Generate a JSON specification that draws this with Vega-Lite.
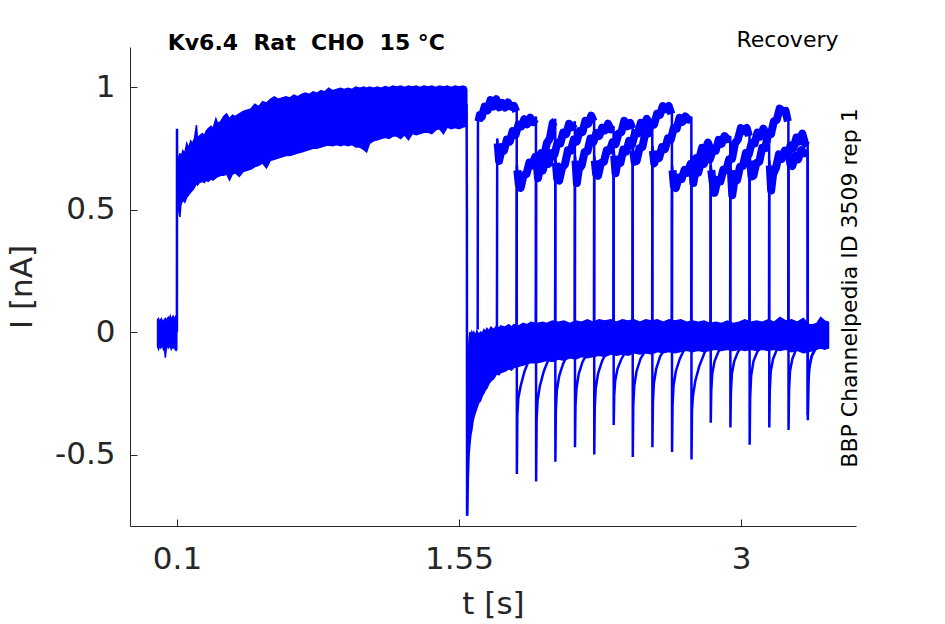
{
"$schema": "https://vega.github.io/schema/vega-lite/v6.json",
"width": 726, "height": 479,
"autosize": {"type": "none"},
"padding": {"left": 130, "top": 47, "right": 89, "bottom": 98},
"background": "white",
"config": {"view": {"stroke": null}, "font": "DejaVu Sans"},
"title": {"text": "Kv6.4\u00a0\u00a0Rat\u00a0\u00a0CHO\u00a0\u00a015 °C", "anchor": "start", "frame": "group", "fontSize": 22, "fontWeight": "bold", "font": "DejaVu Sans", "color": "black", "dx": 37.7, "dy": 43, "offset": 0, "baseline": "alphabetic"},
"datasets": {
"band": [
{"g":"hold","t":0.000,"lo":-0.06,"hi":0.05},{"g":"hold","t":0.005,"lo":-0.07,"hi":0.055},{"g":"hold","t":0.010,"lo":-0.05,"hi":0.04},{"g":"hold","t":0.015,"lo":-0.065,"hi":0.05},{"g":"hold","t":0.020,"lo":-0.06,"hi":0.055},{"g":"hold","t":0.025,"lo":-0.055,"hi":0.04},{"g":"hold","t":0.030,"lo":-0.07,"hi":0.045},{"g":"hold","t":0.035,"lo":-0.06,"hi":0.05},{"g":"hold","t":0.040,"lo":-0.105,"hi":0.055},{"g":"hold","t":0.045,"lo":-0.065,"hi":0.045},{"g":"hold","t":0.050,"lo":-0.05,"hi":0.055},{"g":"hold","t":0.055,"lo":-0.065,"hi":0.06},{"g":"hold","t":0.060,"lo":-0.06,"hi":0.05},{"g":"hold","t":0.065,"lo":-0.055,"hi":0.065},{"g":"hold","t":0.070,"lo":-0.07,"hi":0.05},{"g":"hold","t":0.075,"lo":-0.06,"hi":0.06},{"g":"hold","t":0.080,"lo":-0.065,"hi":0.065},{"g":"hold","t":0.085,"lo":-0.055,"hi":0.05},{"g":"hold","t":0.090,"lo":-0.07,"hi":0.06},{"g":"hold","t":0.095,"lo":-0.075,"hi":0.065},{"g":"hold","t":0.099,"lo":-0.07,"hi":0.06},
{"g":"pre","t":0.1005,"lo":0.50,"hi":0.70},{"g":"pre","t":0.105,"lo":0.52,"hi":0.72},{"g":"pre","t":0.11,"lo":0.49,"hi":0.70},{"g":"pre","t":0.115,"lo":0.47,"hi":0.73},{"g":"pre","t":0.12,"lo":0.52,"hi":0.71},{"g":"pre","t":0.13,"lo":0.54,"hi":0.74},{"g":"pre","t":0.14,"lo":0.53,"hi":0.73},{"g":"pre","t":0.15,"lo":0.55,"hi":0.77},{"g":"pre","t":0.16,"lo":0.56,"hi":0.75},{"g":"pre","t":0.17,"lo":0.57,"hi":0.78},{"g":"pre","t":0.18,"lo":0.58,"hi":0.77},{"g":"pre","t":0.19,"lo":0.59,"hi":0.79},{"g":"pre","t":0.20,"lo":0.61,"hi":0.845},{"g":"pre","t":0.205,"lo":0.60,"hi":0.79},{"g":"pre","t":0.215,"lo":0.61,"hi":0.80},{"g":"pre","t":0.23,"lo":0.615,"hi":0.81},{"g":"pre","t":0.24,"lo":0.61,"hi":0.80},{"g":"pre","t":0.25,"lo":0.62,"hi":0.82},{"g":"pre","t":0.26,"lo":0.615,"hi":0.83},{"g":"pre","t":0.275,"lo":0.625,"hi":0.84},{"g":"pre","t":0.285,"lo":0.62,"hi":0.83},{"g":"pre","t":0.30,"lo":0.63,"hi":0.87},{"g":"pre","t":0.31,"lo":0.635,"hi":0.85},{"g":"pre","t":0.325,"lo":0.64,"hi":0.86},{"g":"pre","t":0.34,"lo":0.64,"hi":0.88},{"g":"pre","t":0.355,"lo":0.645,"hi":0.89},{"g":"pre","t":0.37,"lo":0.62,"hi":0.87},{"g":"pre","t":0.385,"lo":0.645,"hi":0.885},{"g":"pre","t":0.40,"lo":0.65,"hi":0.88},{"g":"pre","t":0.42,"lo":0.635,"hi":0.89},{"g":"pre","t":0.44,"lo":0.655,"hi":0.90},{"g":"pre","t":0.46,"lo":0.66,"hi":0.905},{"g":"pre","t":0.48,"lo":0.665,"hi":0.91},{"g":"pre","t":0.50,"lo":0.675,"hi":0.93},{"g":"pre","t":0.52,"lo":0.68,"hi":0.92},{"g":"pre","t":0.54,"lo":0.69,"hi":0.94},{"g":"pre","t":0.56,"lo":0.67,"hi":0.935},{"g":"pre","t":0.58,"lo":0.70,"hi":0.95},{"g":"pre","t":0.60,"lo":0.705,"hi":0.96},{"g":"pre","t":0.62,"lo":0.71,"hi":0.95},{"g":"pre","t":0.64,"lo":0.715,"hi":0.955},{"g":"pre","t":0.66,"lo":0.72,"hi":0.96},{"g":"pre","t":0.68,"lo":0.72,"hi":0.955},{"g":"pre","t":0.70,"lo":0.725,"hi":0.967},{"g":"pre","t":0.72,"lo":0.73,"hi":0.96},{"g":"pre","t":0.74,"lo":0.735,"hi":0.97},{"g":"pre","t":0.76,"lo":0.74,"hi":0.975},{"g":"pre","t":0.78,"lo":0.745,"hi":0.97},{"g":"pre","t":0.80,"lo":0.75,"hi":0.98},{"g":"pre","t":0.82,"lo":0.75,"hi":0.975},{"g":"pre","t":0.84,"lo":0.755,"hi":0.985},{"g":"pre","t":0.86,"lo":0.76,"hi":0.98},{"g":"pre","t":0.88,"lo":0.763,"hi":0.995},{"g":"pre","t":0.90,"lo":0.76,"hi":0.985},{"g":"pre","t":0.92,"lo":0.765,"hi":0.99},{"g":"pre","t":0.94,"lo":0.76,"hi":0.995},{"g":"pre","t":0.96,"lo":0.765,"hi":0.99},{"g":"pre","t":0.98,"lo":0.76,"hi":0.995},{"g":"pre","t":1.00,"lo":0.765,"hi":0.99},{"g":"pre","t":1.02,"lo":0.755,"hi":1.0},{"g":"pre","t":1.04,"lo":0.755,"hi":0.995},{"g":"pre","t":1.06,"lo":0.745,"hi":1.0},{"g":"pre","t":1.075,"lo":0.735,"hi":0.995},{"g":"pre","t":1.09,"lo":0.77,"hi":1.0},{"g":"pre","t":1.11,"lo":0.78,"hi":0.995},{"g":"pre","t":1.13,"lo":0.785,"hi":1.0},{"g":"pre","t":1.15,"lo":0.79,"hi":0.995},{"g":"pre","t":1.17,"lo":0.795,"hi":1.002},{"g":"pre","t":1.19,"lo":0.79,"hi":0.997},{"g":"pre","t":1.21,"lo":0.80,"hi":1.004},{"g":"pre","t":1.23,"lo":0.80,"hi":1.0},{"g":"pre","t":1.25,"lo":0.79,"hi":1.004},{"g":"pre","t":1.27,"lo":0.805,"hi":0.998},{"g":"pre","t":1.29,"lo":0.785,"hi":1.004},{"g":"pre","t":1.31,"lo":0.81,"hi":1.0},{"g":"pre","t":1.33,"lo":0.805,"hi":1.004},{"g":"pre","t":1.35,"lo":0.81,"hi":0.998},{"g":"pre","t":1.37,"lo":0.815,"hi":1.004},{"g":"pre","t":1.39,"lo":0.816,"hi":1.0},{"g":"pre","t":1.41,"lo":0.81,"hi":1.004},{"g":"pre","t":1.43,"lo":0.825,"hi":0.998},{"g":"pre","t":1.45,"lo":0.83,"hi":1.004},{"g":"pre","t":1.47,"lo":0.81,"hi":1.0},{"g":"pre","t":1.49,"lo":0.837,"hi":1.004},{"g":"pre","t":1.51,"lo":0.83,"hi":0.998},{"g":"pre","t":1.53,"lo":0.835,"hi":1.004},{"g":"pre","t":1.55,"lo":0.83,"hi":1.0},{"g":"pre","t":1.57,"lo":0.837,"hi":1.004},{"g":"pre","t":1.585,"lo":0.84,"hi":1.0},{"g":"pre","t":1.590,"lo":0.84,"hi":0.99},
{"g":"post","t":1.594,"lo":-0.75,"hi":-0.40},{"g":"post","t":1.598,"lo":-0.60,"hi":-0.10},{"g":"post","t":1.602,"lo":-0.50,"hi":-0.03},{"g":"post","t":1.606,"lo":-0.46,"hi":0.0},{"g":"post","t":1.611,"lo":-0.42,"hi":-0.02},{"g":"post","t":1.616,"lo":-0.40,"hi":0.0},{"g":"post","t":1.621,"lo":-0.37,"hi":-0.01},{"g":"post","t":1.626,"lo":-0.35,"hi":0.0},{"g":"post","t":1.634,"lo":-0.33,"hi":-0.015},{"g":"post","t":1.642,"lo":-0.31,"hi":0.005},{"g":"post","t":1.651,"lo":-0.29,"hi":-0.01},{"g":"post","t":1.661,"lo":-0.28,"hi":0.0},{"g":"post","t":1.670,"lo":-0.26,"hi":-0.005},{"g":"post","t":1.678,"lo":-0.25,"hi":0.01},{"g":"post","t":1.686,"lo":-0.235,"hi":0.0},{"g":"post","t":1.693,"lo":-0.23,"hi":0.015},{"g":"post","t":1.704,"lo":-0.21,"hi":0.005},{"g":"post","t":1.714,"lo":-0.20,"hi":0.02},{"g":"post","t":1.729,"lo":-0.19,"hi":0.01},{"g":"post","t":1.744,"lo":-0.17,"hi":0.025},{"g":"post","t":1.755,"lo":-0.175,"hi":0.015},{"g":"post","t":1.765,"lo":-0.165,"hi":0.025},{"g":"post","t":1.785,"lo":-0.16,"hi":0.02},{"g":"post","t":1.806,"lo":-0.15,"hi":0.03},{"g":"post","t":1.820,"lo":-0.155,"hi":0.02},{"g":"post","t":1.832,"lo":-0.145,"hi":0.03},{"g":"post","t":1.857,"lo":-0.14,"hi":0.025},{"g":"post","t":1.88,"lo":-0.135,"hi":0.035},{"g":"post","t":1.90,"lo":-0.13,"hi":0.03},{"g":"post","t":1.92,"lo":-0.125,"hi":0.04},{"g":"post","t":1.95,"lo":-0.125,"hi":0.035},{"g":"post","t":1.98,"lo":-0.12,"hi":0.04},{"g":"post","t":2.00,"lo":-0.115,"hi":0.035},{"g":"post","t":2.03,"lo":-0.12,"hi":0.045},{"g":"post","t":2.06,"lo":-0.11,"hi":0.04},{"g":"post","t":2.09,"lo":-0.115,"hi":0.045},{"g":"post","t":2.12,"lo":-0.105,"hi":0.035},{"g":"post","t":2.15,"lo":-0.11,"hi":0.045},{"g":"post","t":2.18,"lo":-0.10,"hi":0.04},{"g":"post","t":2.21,"lo":-0.105,"hi":0.05},{"g":"post","t":2.24,"lo":-0.10,"hi":0.04},{"g":"post","t":2.27,"lo":-0.095,"hi":0.05},{"g":"post","t":2.30,"lo":-0.10,"hi":0.045},{"g":"post","t":2.33,"lo":-0.09,"hi":0.05},{"g":"post","t":2.36,"lo":-0.095,"hi":0.04},{"g":"post","t":2.39,"lo":-0.09,"hi":0.05},{"g":"post","t":2.42,"lo":-0.095,"hi":0.045},{"g":"post","t":2.45,"lo":-0.085,"hi":0.05},{"g":"post","t":2.48,"lo":-0.09,"hi":0.04},{"g":"post","t":2.51,"lo":-0.085,"hi":0.05},{"g":"post","t":2.54,"lo":-0.09,"hi":0.045},{"g":"post","t":2.57,"lo":-0.08,"hi":0.05},{"g":"post","t":2.60,"lo":-0.085,"hi":0.04},{"g":"post","t":2.63,"lo":-0.08,"hi":0.05},{"g":"post","t":2.66,"lo":-0.085,"hi":0.045},{"g":"post","t":2.69,"lo":-0.08,"hi":0.05},{"g":"post","t":2.72,"lo":-0.075,"hi":0.04},{"g":"post","t":2.75,"lo":-0.08,"hi":0.045},{"g":"post","t":2.78,"lo":-0.075,"hi":0.04},{"g":"post","t":2.81,"lo":-0.08,"hi":0.045},{"g":"post","t":2.84,"lo":-0.075,"hi":0.035},{"g":"post","t":2.87,"lo":-0.07,"hi":0.04},{"g":"post","t":2.90,"lo":-0.075,"hi":0.035},{"g":"post","t":2.93,"lo":-0.07,"hi":0.045},{"g":"post","t":2.96,"lo":-0.075,"hi":0.035},{"g":"post","t":2.99,"lo":-0.07,"hi":0.04},{"g":"post","t":3.02,"lo":-0.075,"hi":0.05},{"g":"post","t":3.05,"lo":-0.07,"hi":0.04},{"g":"post","t":3.08,"lo":-0.075,"hi":0.045},{"g":"post","t":3.11,"lo":-0.07,"hi":0.04},{"g":"post","t":3.14,"lo":-0.075,"hi":0.05},{"g":"post","t":3.17,"lo":-0.07,"hi":0.04},{"g":"post","t":3.20,"lo":-0.075,"hi":0.06},{"g":"post","t":3.23,"lo":-0.07,"hi":0.045},{"g":"post","t":3.26,"lo":-0.08,"hi":0.05},{"g":"post","t":3.29,"lo":-0.075,"hi":0.04},{"g":"post","t":3.32,"lo":-0.085,"hi":0.055},{"g":"post","t":3.35,"lo":-0.08,"hi":0.03},{"g":"post","t":3.37,"lo":-0.075,"hi":0.03},{"g":"post","t":3.39,"lo":-0.07,"hi":0.035},{"g":"post","t":3.41,"lo":-0.065,"hi":0.06},{"g":"post","t":3.43,"lo":-0.07,"hi":0.045},{"g":"post","t":3.45,"lo":-0.065,"hi":0.04}
],
"pulse": [
{"p":0,"t":1.650,"i":0.86},{"p":0,"t":1.657,"i":0.885},{"p":0,"t":1.667,"i":0.878},{"p":0,"t":1.682,"i":0.92},{"p":0,"t":1.697,"i":0.905},{"p":0,"t":1.712,"i":0.947},{"p":0,"t":1.727,"i":0.92},{"p":0,"t":1.742,"i":0.95},{"p":0,"t":1.757,"i":0.917},{"p":0,"t":1.772,"i":0.935},{"p":0,"t":1.787,"i":0.916},{"p":0,"t":1.802,"i":0.937},{"p":0,"t":1.817,"i":0.92},{"p":0,"t":1.832,"i":0.923},{"p":0,"t":1.844,"i":0.90},
{"p":1,"t":1.749,"i":0.77},{"p":1,"t":1.756,"i":0.698},{"p":1,"t":1.766,"i":0.734},{"p":1,"t":1.781,"i":0.74},{"p":1,"t":1.796,"i":0.785},{"p":1,"t":1.811,"i":0.777},{"p":1,"t":1.826,"i":0.82},{"p":1,"t":1.841,"i":0.805},{"p":1,"t":1.856,"i":0.847},{"p":1,"t":1.871,"i":0.84},{"p":1,"t":1.886,"i":0.869},{"p":1,"t":1.901,"i":0.848},{"p":1,"t":1.916,"i":0.875},{"p":1,"t":1.931,"i":0.857},{"p":1,"t":1.943,"i":0.87},
{"p":2,"t":1.850,"i":0.66},{"p":2,"t":1.857,"i":0.605},{"p":2,"t":1.867,"i":0.588},{"p":2,"t":1.882,"i":0.64},{"p":2,"t":1.897,"i":0.645},{"p":2,"t":1.912,"i":0.692},{"p":2,"t":1.927,"i":0.68},{"p":2,"t":1.942,"i":0.715},{"p":2,"t":1.957,"i":0.697},{"p":2,"t":1.972,"i":0.73},{"p":2,"t":1.987,"i":0.716},{"p":2,"t":2.002,"i":0.772},{"p":2,"t":2.017,"i":0.79},{"p":2,"t":2.032,"i":0.853},{"p":2,"t":2.044,"i":0.86},
{"p":3,"t":1.949,"i":0.70},{"p":3,"t":1.956,"i":0.628},{"p":3,"t":1.966,"i":0.664},{"p":3,"t":1.981,"i":0.66},{"p":3,"t":1.996,"i":0.705},{"p":3,"t":2.011,"i":0.687},{"p":3,"t":2.026,"i":0.73},{"p":3,"t":2.041,"i":0.725},{"p":3,"t":2.056,"i":0.772},{"p":3,"t":2.071,"i":0.77},{"p":3,"t":2.086,"i":0.814},{"p":3,"t":2.101,"i":0.808},{"p":3,"t":2.116,"i":0.85},{"p":3,"t":2.131,"i":0.837},{"p":3,"t":2.143,"i":0.85},
{"p":4,"t":2.048,"i":0.69},{"p":4,"t":2.055,"i":0.625},{"p":4,"t":2.065,"i":0.618},{"p":4,"t":2.080,"i":0.67},{"p":4,"t":2.095,"i":0.685},{"p":4,"t":2.110,"i":0.742},{"p":4,"t":2.125,"i":0.74},{"p":4,"t":2.140,"i":0.785},{"p":4,"t":2.155,"i":0.777},{"p":4,"t":2.170,"i":0.82},{"p":4,"t":2.185,"i":0.816},{"p":4,"t":2.200,"i":0.862},{"p":4,"t":2.215,"i":0.85},{"p":4,"t":2.230,"i":0.883},{"p":4,"t":2.242,"i":0.86},
{"p":5,"t":2.149,"i":0.70},{"p":5,"t":2.156,"i":0.608},{"p":5,"t":2.166,"i":0.664},{"p":5,"t":2.181,"i":0.68},{"p":5,"t":2.196,"i":0.735},{"p":5,"t":2.211,"i":0.737},{"p":5,"t":2.226,"i":0.79},{"p":5,"t":2.241,"i":0.775},{"p":5,"t":2.256,"i":0.812},{"p":5,"t":2.271,"i":0.80},{"p":5,"t":2.286,"i":0.834},{"p":5,"t":2.301,"i":0.823},{"p":5,"t":2.316,"i":0.85},{"p":5,"t":2.331,"i":0.827},{"p":5,"t":2.343,"i":0.83},
{"p":6,"t":2.248,"i":0.70},{"p":6,"t":2.255,"i":0.645},{"p":6,"t":2.265,"i":0.638},{"p":6,"t":2.280,"i":0.69},{"p":6,"t":2.295,"i":0.695},{"p":6,"t":2.310,"i":0.742},{"p":6,"t":2.325,"i":0.74},{"p":6,"t":2.340,"i":0.775},{"p":6,"t":2.355,"i":0.767},{"p":6,"t":2.370,"i":0.81},{"p":6,"t":2.385,"i":0.816},{"p":6,"t":2.400,"i":0.862},{"p":6,"t":2.415,"i":0.84},{"p":6,"t":2.430,"i":0.853},{"p":6,"t":2.441,"i":0.83},
{"p":7,"t":2.348,"i":0.72},{"p":7,"t":2.355,"i":0.648},{"p":7,"t":2.365,"i":0.694},{"p":7,"t":2.380,"i":0.69},{"p":7,"t":2.395,"i":0.745},{"p":7,"t":2.410,"i":0.737},{"p":7,"t":2.425,"i":0.78},{"p":7,"t":2.440,"i":0.765},{"p":7,"t":2.455,"i":0.812},{"p":7,"t":2.470,"i":0.81},{"p":7,"t":2.485,"i":0.854},{"p":7,"t":2.500,"i":0.838},{"p":7,"t":2.515,"i":0.87},{"p":7,"t":2.530,"i":0.847},{"p":7,"t":2.541,"i":0.85},
{"p":8,"t":2.446,"i":0.74},{"p":8,"t":2.453,"i":0.695},{"p":8,"t":2.463,"i":0.698},{"p":8,"t":2.478,"i":0.75},{"p":8,"t":2.493,"i":0.755},{"p":8,"t":2.508,"i":0.812},{"p":8,"t":2.523,"i":0.81},{"p":8,"t":2.538,"i":0.855},{"p":8,"t":2.553,"i":0.847},{"p":8,"t":2.568,"i":0.89},{"p":8,"t":2.583,"i":0.886},{"p":8,"t":2.598,"i":0.922},{"p":8,"t":2.613,"i":0.91},{"p":8,"t":2.628,"i":0.923},{"p":8,"t":2.642,"i":0.89},
{"p":9,"t":2.547,"i":0.74},{"p":9,"t":2.554,"i":0.688},{"p":9,"t":2.564,"i":0.724},{"p":9,"t":2.579,"i":0.71},{"p":9,"t":2.594,"i":0.755},{"p":9,"t":2.609,"i":0.747},{"p":9,"t":2.624,"i":0.79},{"p":9,"t":2.639,"i":0.785},{"p":9,"t":2.654,"i":0.832},{"p":9,"t":2.669,"i":0.83},{"p":9,"t":2.684,"i":0.874},{"p":9,"t":2.699,"i":0.858},{"p":9,"t":2.714,"i":0.88},{"p":9,"t":2.729,"i":0.867},{"p":9,"t":2.742,"i":0.87},
{"p":10,"t":2.648,"i":0.66},{"p":10,"t":2.655,"i":0.595},{"p":10,"t":2.665,"i":0.588},{"p":10,"t":2.680,"i":0.63},{"p":10,"t":2.695,"i":0.625},{"p":10,"t":2.710,"i":0.662},{"p":10,"t":2.725,"i":0.65},{"p":10,"t":2.740,"i":0.685},{"p":10,"t":2.755,"i":0.677},{"p":10,"t":2.770,"i":0.71},{"p":10,"t":2.785,"i":0.706},{"p":10,"t":2.800,"i":0.752},{"p":10,"t":2.815,"i":0.74},{"p":10,"t":2.830,"i":0.773},{"p":10,"t":2.841,"i":0.75},
{"p":11,"t":2.748,"i":0.70},{"p":11,"t":2.755,"i":0.608},{"p":11,"t":2.765,"i":0.654},{"p":11,"t":2.780,"i":0.65},{"p":11,"t":2.795,"i":0.695},{"p":11,"t":2.810,"i":0.687},{"p":11,"t":2.825,"i":0.72},{"p":11,"t":2.840,"i":0.705},{"p":11,"t":2.855,"i":0.742},{"p":11,"t":2.870,"i":0.74},{"p":11,"t":2.885,"i":0.784},{"p":11,"t":2.900,"i":0.768},{"p":11,"t":2.915,"i":0.80},{"p":11,"t":2.930,"i":0.787},{"p":11,"t":2.942,"i":0.79},
{"p":12,"t":2.847,"i":0.66},{"p":12,"t":2.854,"i":0.615},{"p":12,"t":2.864,"i":0.568},{"p":12,"t":2.879,"i":0.62},{"p":12,"t":2.894,"i":0.615},{"p":12,"t":2.909,"i":0.662},{"p":12,"t":2.924,"i":0.66},{"p":12,"t":2.939,"i":0.705},{"p":12,"t":2.954,"i":0.707},{"p":12,"t":2.969,"i":0.77},{"p":12,"t":2.984,"i":0.786},{"p":12,"t":2.999,"i":0.832},{"p":12,"t":3.014,"i":0.82},{"p":12,"t":3.029,"i":0.833},{"p":12,"t":3.041,"i":0.80},
{"p":13,"t":2.948,"i":0.66},{"p":13,"t":2.955,"i":0.558},{"p":13,"t":2.965,"i":0.614},{"p":13,"t":2.980,"i":0.62},{"p":13,"t":2.995,"i":0.675},{"p":13,"t":3.010,"i":0.677},{"p":13,"t":3.025,"i":0.73},{"p":13,"t":3.040,"i":0.725},{"p":13,"t":3.055,"i":0.772},{"p":13,"t":3.070,"i":0.77},{"p":13,"t":3.085,"i":0.814},{"p":13,"t":3.100,"i":0.798},{"p":13,"t":3.115,"i":0.83},{"p":13,"t":3.130,"i":0.807},{"p":13,"t":3.142,"i":0.80},
{"p":14,"t":3.047,"i":0.70},{"p":14,"t":3.054,"i":0.635},{"p":14,"t":3.064,"i":0.638},{"p":14,"t":3.079,"i":0.69},{"p":14,"t":3.094,"i":0.695},{"p":14,"t":3.109,"i":0.752},{"p":14,"t":3.124,"i":0.75},{"p":14,"t":3.139,"i":0.805},{"p":14,"t":3.154,"i":0.807},{"p":14,"t":3.169,"i":0.86},{"p":14,"t":3.184,"i":0.866},{"p":14,"t":3.199,"i":0.912},{"p":14,"t":3.214,"i":0.90},{"p":14,"t":3.229,"i":0.903},{"p":14,"t":3.241,"i":0.86},
{"p":15,"t":3.148,"i":0.68},{"p":15,"t":3.155,"i":0.578},{"p":15,"t":3.165,"i":0.644},{"p":15,"t":3.180,"i":0.67},{"p":15,"t":3.195,"i":0.725},{"p":15,"t":3.210,"i":0.707},{"p":15,"t":3.225,"i":0.74},{"p":15,"t":3.240,"i":0.725},{"p":15,"t":3.255,"i":0.762},{"p":15,"t":3.270,"i":0.75},{"p":15,"t":3.285,"i":0.794},{"p":15,"t":3.300,"i":0.778},{"p":15,"t":3.315,"i":0.81},{"p":15,"t":3.330,"i":0.767},{"p":15,"t":3.340,"i":0.76},
{"p":16,"t":3.247,"i":0.72},{"p":16,"t":3.254,"i":0.685},{"p":16,"t":3.264,"i":0.678},{"p":16,"t":3.279,"i":0.72},{"p":16,"t":3.294,"i":0.705},{"p":16,"t":3.309,"i":0.742},{"p":16,"t":3.324,"i":0.73},{"p":16,"t":3.340,"i":0.73}
],
"tr": [
{"g":"on","t":0.0995,"i":0.0},{"g":"on","t":0.1,"i":0.83},{"g":"on","t":0.1008,"i":0.62},{"g":"on","t":0.1015,"i":0.55},
{"g":"off","t":1.589,"i":0.93},{"g":"off","t":1.5905,"i":0.5},{"g":"off","t":1.5915,"i":-0.75},{"g":"off","t":1.5935,"i":-0.55},
{"g":"s0","t":1.646,"i":0.01},{"g":"s0","t":1.6475,"i":0.88},{"g":"s0","t":1.650,"i":0.86},
{"g":"s1","t":1.745,"i":0.0},{"g":"s1","t":1.7465,"i":0.79},{"g":"s1","t":1.749,"i":0.77},
{"g":"s2","t":1.846,"i":0.0},{"g":"s2","t":1.8475,"i":0.68},{"g":"s2","t":1.850,"i":0.66},
{"g":"s3","t":1.945,"i":0.0},{"g":"s3","t":1.9465,"i":0.72},{"g":"s3","t":1.949,"i":0.70},
{"g":"s4","t":2.044,"i":0.0},{"g":"s4","t":2.0455,"i":0.71},{"g":"s4","t":2.048,"i":0.69},
{"g":"s5","t":2.145,"i":0.0},{"g":"s5","t":2.1465,"i":0.72},{"g":"s5","t":2.149,"i":0.70},
{"g":"s6","t":2.244,"i":0.0},{"g":"s6","t":2.2455,"i":0.72},{"g":"s6","t":2.248,"i":0.70},
{"g":"s7","t":2.344,"i":0.0},{"g":"s7","t":2.3455,"i":0.74},{"g":"s7","t":2.348,"i":0.72},
{"g":"s8","t":2.442,"i":0.0},{"g":"s8","t":2.4435,"i":0.76},{"g":"s8","t":2.446,"i":0.74},
{"g":"s9","t":2.543,"i":0.0},{"g":"s9","t":2.5445,"i":0.76},{"g":"s9","t":2.547,"i":0.74},
{"g":"s10","t":2.644,"i":0.0},{"g":"s10","t":2.6455,"i":0.68},{"g":"s10","t":2.648,"i":0.66},
{"g":"s11","t":2.744,"i":0.0},{"g":"s11","t":2.7455,"i":0.72},{"g":"s11","t":2.748,"i":0.70},
{"g":"s12","t":2.843,"i":0.0},{"g":"s12","t":2.8445,"i":0.68},{"g":"s12","t":2.847,"i":0.66},
{"g":"s13","t":2.944,"i":0.0},{"g":"s13","t":2.9455,"i":0.68},{"g":"s13","t":2.948,"i":0.66},
{"g":"s14","t":3.043,"i":0.0},{"g":"s14","t":3.0445,"i":0.72},{"g":"s14","t":3.047,"i":0.70},
{"g":"s15","t":3.144,"i":0.0},{"g":"s15","t":3.1455,"i":0.70},{"g":"s15","t":3.148,"i":0.68},
{"g":"s16","t":3.243,"i":0.0},{"g":"s16","t":3.2445,"i":0.74},{"g":"s16","t":3.247,"i":0.72},
{"g":"e0","t":1.844,"i":0.90},{"g":"e0","t":1.8467,"i":0.91},{"g":"e0","t":1.8475,"i":-0.58},{"g":"e0","t":1.850,"i":-0.34},{"g":"e0","t":1.855,"i":-0.27},{"g":"e0","t":1.867,"i":-0.22},{"g":"e0","t":1.887,"i":-0.16},{"g":"e0","t":1.917,"i":-0.10},{"g":"e0","t":1.947,"i":-0.05},
{"g":"e1","t":1.943,"i":0.87},{"g":"e1","t":1.9457,"i":0.88},{"g":"e1","t":1.9465,"i":-0.61},{"g":"e1","t":1.949,"i":-0.36},{"g":"e1","t":1.954,"i":-0.28},{"g":"e1","t":1.966,"i":-0.22},{"g":"e1","t":1.986,"i":-0.16},{"g":"e1","t":2.016,"i":-0.10},{"g":"e1","t":2.046,"i":-0.05},
{"g":"e2","t":2.042,"i":0.86},{"g":"e2","t":2.0447,"i":0.87},{"g":"e2","t":2.0455,"i":-0.53},{"g":"e2","t":2.048,"i":-0.32},{"g":"e2","t":2.053,"i":-0.24},{"g":"e2","t":2.065,"i":-0.18},{"g":"e2","t":2.085,"i":-0.13},{"g":"e2","t":2.115,"i":-0.08},{"g":"e2","t":2.145,"i":-0.04},
{"g":"e3","t":2.143,"i":0.85},{"g":"e3","t":2.1457,"i":0.86},{"g":"e3","t":2.1465,"i":-0.47},{"g":"e3","t":2.149,"i":-0.30},{"g":"e3","t":2.154,"i":-0.23},{"g":"e3","t":2.166,"i":-0.17},{"g":"e3","t":2.186,"i":-0.12},{"g":"e3","t":2.216,"i":-0.08},{"g":"e3","t":2.246,"i":-0.04},
{"g":"e4","t":2.242,"i":0.86},{"g":"e4","t":2.2447,"i":0.87},{"g":"e4","t":2.2455,"i":-0.50},{"g":"e4","t":2.248,"i":-0.31},{"g":"e4","t":2.253,"i":-0.23},{"g":"e4","t":2.265,"i":-0.17},{"g":"e4","t":2.285,"i":-0.12},{"g":"e4","t":2.315,"i":-0.07},{"g":"e4","t":2.345,"i":-0.03},
{"g":"e5","t":2.343,"i":0.83},{"g":"e5","t":2.3447,"i":0.84},{"g":"e5","t":2.3455,"i":-0.38},{"g":"e5","t":2.348,"i":-0.26},{"g":"e5","t":2.353,"i":-0.20},{"g":"e5","t":2.365,"i":-0.15},{"g":"e5","t":2.385,"i":-0.11},{"g":"e5","t":2.415,"i":-0.07},{"g":"e5","t":2.445,"i":-0.03},
{"g":"e6","t":2.441,"i":0.83},{"g":"e6","t":2.4427,"i":0.84},{"g":"e6","t":2.4435,"i":-0.51},{"g":"e6","t":2.446,"i":-0.30},{"g":"e6","t":2.451,"i":-0.22},{"g":"e6","t":2.463,"i":-0.16},{"g":"e6","t":2.483,"i":-0.11},{"g":"e6","t":2.513,"i":-0.07},{"g":"e6","t":2.543,"i":-0.03},
{"g":"e7","t":2.541,"i":0.85},{"g":"e7","t":2.5437,"i":0.86},{"g":"e7","t":2.5445,"i":-0.47},{"g":"e7","t":2.547,"i":-0.29},{"g":"e7","t":2.552,"i":-0.21},{"g":"e7","t":2.564,"i":-0.15},{"g":"e7","t":2.584,"i":-0.10},{"g":"e7","t":2.614,"i":-0.06},{"g":"e7","t":2.644,"i":-0.03},
{"g":"e8","t":2.642,"i":0.89},{"g":"e8","t":2.6447,"i":0.90},{"g":"e8","t":2.6455,"i":-0.49},{"g":"e8","t":2.648,"i":-0.30},{"g":"e8","t":2.653,"i":-0.22},{"g":"e8","t":2.665,"i":-0.16},{"g":"e8","t":2.685,"i":-0.11},{"g":"e8","t":2.715,"i":-0.06},{"g":"e8","t":2.745,"i":-0.03},
{"g":"e9","t":2.742,"i":0.87},{"g":"e9","t":2.7447,"i":0.88},{"g":"e9","t":2.7455,"i":-0.52},{"g":"e9","t":2.748,"i":-0.32},{"g":"e9","t":2.753,"i":-0.26},{"g":"e9","t":2.765,"i":-0.20},{"g":"e9","t":2.785,"i":-0.14},{"g":"e9","t":2.815,"i":-0.08},{"g":"e9","t":2.845,"i":-0.04},
{"g":"e10","t":2.841,"i":0.75},{"g":"e10","t":2.8437,"i":0.76},{"g":"e10","t":2.8445,"i":-0.37},{"g":"e10","t":2.847,"i":-0.24},{"g":"e10","t":2.852,"i":-0.17},{"g":"e10","t":2.864,"i":-0.12},{"g":"e10","t":2.884,"i":-0.08},{"g":"e10","t":2.914,"i":-0.05},{"g":"e10","t":2.944,"i":-0.02},
{"g":"e11","t":2.942,"i":0.79},{"g":"e11","t":2.9447,"i":0.80},{"g":"e11","t":2.9455,"i":-0.39},{"g":"e11","t":2.948,"i":-0.25},{"g":"e11","t":2.953,"i":-0.17},{"g":"e11","t":2.965,"i":-0.12},{"g":"e11","t":2.985,"i":-0.08},{"g":"e11","t":3.015,"i":-0.05},{"g":"e11","t":3.045,"i":-0.02},
{"g":"e12","t":3.041,"i":0.80},{"g":"e12","t":3.0437,"i":0.81},{"g":"e12","t":3.0445,"i":-0.46},{"g":"e12","t":3.047,"i":-0.27},{"g":"e12","t":3.052,"i":-0.18},{"g":"e12","t":3.064,"i":-0.12},{"g":"e12","t":3.084,"i":-0.08},{"g":"e12","t":3.114,"i":-0.05},{"g":"e12","t":3.144,"i":-0.02},
{"g":"e13","t":3.142,"i":0.80},{"g":"e13","t":3.1447,"i":0.81},{"g":"e13","t":3.1455,"i":-0.39},{"g":"e13","t":3.148,"i":-0.24},{"g":"e13","t":3.153,"i":-0.16},{"g":"e13","t":3.165,"i":-0.11},{"g":"e13","t":3.185,"i":-0.07},{"g":"e13","t":3.215,"i":-0.04},{"g":"e13","t":3.245,"i":-0.02},
{"g":"e14","t":3.241,"i":0.86},{"g":"e14","t":3.2437,"i":0.87},{"g":"e14","t":3.2445,"i":-0.40},{"g":"e14","t":3.247,"i":-0.24},{"g":"e14","t":3.252,"i":-0.16},{"g":"e14","t":3.264,"i":-0.11},{"g":"e14","t":3.284,"i":-0.07},{"g":"e14","t":3.314,"i":-0.04},{"g":"e14","t":3.344,"i":-0.02},
{"g":"e15","t":3.340,"i":0.76},{"g":"e15","t":3.3427,"i":0.77},{"g":"e15","t":3.3435,"i":-0.36},{"g":"e15","t":3.346,"i":-0.22},{"g":"e15","t":3.351,"i":-0.15},{"g":"e15","t":3.363,"i":-0.10},{"g":"e15","t":3.383,"i":-0.07},{"g":"e15","t":3.413,"i":-0.04},{"g":"e15","t":3.443,"i":-0.02},
{"g":"e16","t":3.3401,"i":0.73},{"g":"e16","t":3.3425,"i":0.74},{"g":"e16","t":3.3432,"i":-0.34},{"g":"e16","t":3.3455,"i":-0.21},{"g":"e16","t":3.3505,"i":-0.14},{"g":"e16","t":3.3625,"i":-0.10},{"g":"e16","t":3.3825,"i":-0.06},{"g":"e16","t":3.4125,"i":-0.04},{"g":"e16","t":3.4425,"i":-0.02}
]
},
"layer": [
{
"data": {"name": "band"},
"mark": {"type": "area", "color": "#0000ff", "stroke": "#0000ff", "strokeWidth": 1.5, "opacity": 1},
"encoding": {
"x": {"field": "t", "type": "quantitative", "scale": {"domain": [-0.1417, 3.5913], "nice": false, "zero": false},
"axis": {"orient": "bottom", "values": [0.1, 1.55, 3], "labelExpr": "'' + datum.value", "title": "t [s]", "grid": false, "tickSize": -7, "labelFontSize": 31, "titleFontSize": 31, "titleFontWeight": "normal", "labelPadding": 25, "titlePadding": 15, "labelFlush": false, "labelOverlap": false, "labelBound": false, "domainColor": "#262626", "tickColor": "#262626", "labelColor": "#262626", "titleColor": "#262626", "labelFont": "DejaVu Sans", "titleFont": "DejaVu Sans"}},
"y": {"field": "lo", "type": "quantitative", "scale": {"domain": [-0.7918, 1.1633], "nice": false, "zero": false},
"axis": {"orient": "left", "values": [-0.5, 0, 0.5, 1], "labelExpr": "'' + datum.value", "title": "I [nA]", "grid": false, "tickSize": -7, "labelFontSize": 31, "titleFontSize": 31, "titleFontWeight": "normal", "labelPadding": 22, "titlePadding": 16, "labelFlush": false, "labelOverlap": false, "labelBound": false, "domainColor": "#262626", "tickColor": "#262626", "labelColor": "#262626", "titleColor": "#262626", "labelFont": "DejaVu Sans", "titleFont": "DejaVu Sans"}},
"y2": {"field": "hi"},
"detail": {"field": "g"}
}
},
{
"data": {"name": "pulse"},
"mark": {"type": "line", "color": "#0000ff", "strokeWidth": 8, "strokeJoin": "round", "strokeCap": "butt"},
"encoding": {
"x": {"field": "t", "type": "quantitative", "scale": {"domain": [-0.1417, 3.5913], "nice": false, "zero": false},
"axis": {"orient": "top", "title": "Recovery", "labels": false, "ticks": false, "domain": false, "grid": false, "titleFontSize": 22, "titleFontWeight": "normal", "titleColor": "black", "titleFont": "DejaVu Sans", "titleX": 708, "titleY": -0.5, "titleAlign": "right", "titleBaseline": "alphabetic"}},
"y": {"field": "i", "type": "quantitative", "scale": {"domain": [-0.7918, 1.1633], "nice": false, "zero": false},
"axis": {"orient": "right", "title": "BBP Channelpedia ID 3509 rep 1", "labels": false, "ticks": false, "domain": false, "grid": false, "titleFontSize": 22, "titleFontWeight": "normal", "titleColor": "black", "titleFont": "DejaVu Sans", "titleAngle": -90, "titleX": -7, "titleY": 240.5, "titleAlign": "center", "titleBaseline": "middle"}},
"detail": {"field": "p"}
}
},
{
"data": {"name": "tr"},
"mark": {"type": "line", "color": "#0000ff", "strokeWidth": 2.5},
"encoding": {
"x": {"field": "t", "type": "quantitative", "scale": {"domain": [-0.1417, 3.5913], "nice": false, "zero": false}, "axis": null},
"y": {"field": "i", "type": "quantitative", "scale": {"domain": [-0.7918, 1.1633], "nice": false, "zero": false}, "axis": null},
"detail": {"field": "g"}
}
}
],
"resolve": {"axis": {"x": "independent", "y": "independent"}}
}
